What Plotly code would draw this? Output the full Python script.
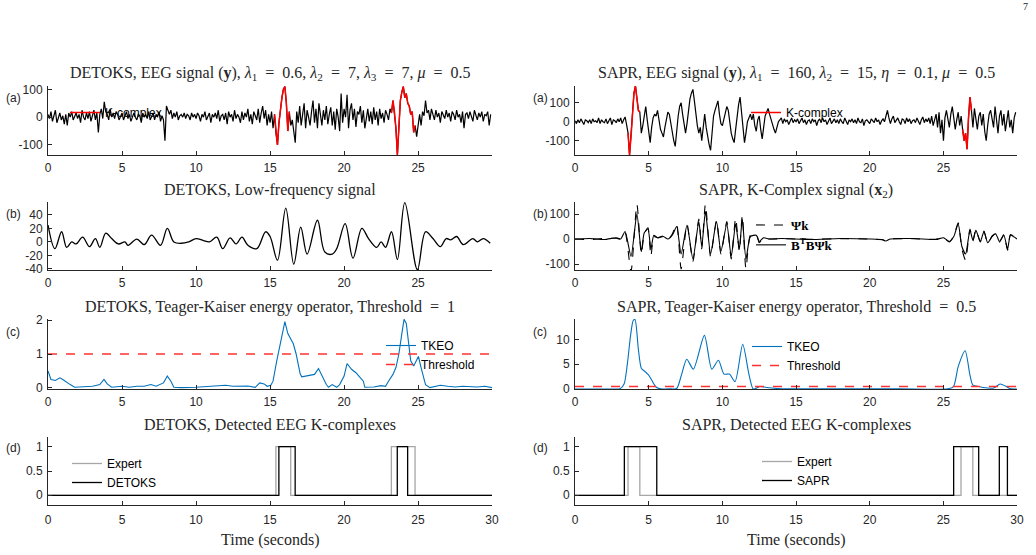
import numpy as np
import plotly.graph_objects as go

W, H = 1036, 555

# ---------------- data ----------------
t_eeg = np.round(np.arange(0, 30, 0.1), 1)

detoks_eeg = [
    10, -5, 20, -15, 5, 25, -20, 0, 15, -10,
    5, -25, 10, -30, 15, 0, 20, -10, 5, 15,
    -5, 10, -20, 25, 0, -10, 15, -5, 20, -15,
    5, 25, -10, 15, -55, 10, 30, -5, 55, 20,
    10, -10, 30, 0, 15, -5, 20, 10, -10, 5,
    15, -10, 5, 20, -5, 10, -15, 5, 15, 0,
    -10, 10, 5, -20, 15, 0, 10, -5, 20, -10,
    5, 15, -10, 10, 0, 20, -15, 5, -10, -85,
    40, 20, 10, 25, -5, 15, 0, 20, -10, 5,
    10, 0, 15, -5, 10, 5, -10, 15, 0, 10,
    -5, 15, 5, -15, 10, 0, 20, -10, 5, 15,
    -20, 10, 0, 15, -5, 25, -15, 5, 10, -10,
    15, -25, 20, 0, 10, -15, 25, -5, 10, 0,
    -20, 20, -10, 15, 0, 30, -15, 10, -25, 20,
    5, -10, 30, -20, 15, 40, -5, 25, -30, 10,
    -20, 20, -40, 10, -60, -100, -20, 40, 70, 100,
    110, 50, -50, 20, -30, -10, -60, -92, 20, -20,
    40, -30, 10, 50, -40, 25, 0, -30, 20, 60,
    -20, 30, -40, 50, 10, -30, 25, -10, 40, -25,
    10, 35, -30, 20, -45, 30, 0, -50, 85, -20,
    30, 0, 80, -40, 25, 50, -10, 30, -35, 20,
    10, 40, -20, 25, -40, 5, 30, -15, 20, -25,
    35, -10, 20, -30, 30, -5, 15, -20, 25, 10,
    -10, 30, 15, 60, 20, -40, -136, -20, 60, 90,
    110, 70, 85, 50, 40, 10, 20, -55, -30, -70,
    -20, 10, -30, 20, 5, 60, 15, 25, -10, 30,
    10, -10, 25, 0, 15, -20, 20, 5, -5, 25,
    0, 15, -15, 20, 10, -10, 25, 0, 10, -20,
    20, -40, 10, 15, -5, 20, 0, -15, 25, 5,
    -10, 15, 0, 20, -15, 10, 5, 20, -30, 10,
]
detoks_kc_windows = [(15.3, 16.3), (23.2, 24.8)]

sapr_eeg = [
    5, -10, 10, -5, 15, 0, -15, 10, 5, -5,
    10, -10, 15, 0, 5, -5, 20, -10, 10, 0,
    -5, 15, -10, 5, 20, -15, 10, 5, -5, 15,
    0, 20, -10, 10, 25, -15, -60, -175, -80, 40,
    150, 188, 120, 60, 50, -60, -20, 30, 80, 10,
    -40, -110, -30, 20, 40, 30, 60, 10, -40, -60,
    -80, -30, 20, 50, 40, -10, -60, -100, -130, -40,
    30, 80, 100, 40, -20, -60, -10, 60, 120, 150,
    170, 110, 30, -20, -60, -30, -100, -20, 40, -30,
    -90, -120, -150, -60, 30, 60, 90, 110, 40, -10,
    -20, 10, 50, 80, 60, -10, -60, -90, -110, -40,
    30, 90, 130, 60, -40, -110, -60, 0, 20, 40,
    10, 40, -20, -50, 10, 30, -40, -90, -30, 30,
    50, 70, 40, 10, -20, -40, -60, -30, 0, 10,
    20, -10, 15, 0, 10, -15, 5, 20, -5, 10,
    0, 15, -10, 5, 20, -5, 10, -15, 5, 10,
    -10, 15, 0, 10, -20, 5, 15, -5, 20, 0,
    10, -15, 5, 20, -10, 0, 15, -5, 10, -10,
    15, 0, -10, 20, 5, -15, 10, 0, 15, -5,
    10, -10, 20, 0, -5, 15, -20, 5, 10, 0,
    -10, 15, 5, -5, 20, 0, 10, -15, 5, 15,
    0, 25, 60, 20, -10, 15, 30, -5, 10, 20,
    0, -15, 15, 10, -10, 20, 0, 15, -10, 5,
    10, -5, 20, 0, -15, 10, 25, -5, 15, 0,
    20, -10, 30, -20, 15, 40, -30, 50, -60, 10,
    -100, 20, 60, 10, -30, 40, 80, 20, -40, 10,
    50, -20, 30, -40, -100, -60, -145, 20, 130, 60,
    -30, 70, 20, -40, 30, 50, -20, 40, -50, -100,
    -20, 40, 60, 10, -30, 80, 20, -60, 30, 60,
    -20, 40, -50, 20, 60, -30, 10, -60, 20, 50,
]
sapr_kc_windows = [(3.6, 4.4), (26.3, 26.9)]

low_t = [0, 0.47, 0.92, 1.26, 1.6, 1.9, 2.34, 2.8, 3.2, 3.5, 3.9, 4.3, 4.75, 5.2, 5.4, 6.0, 6.5,
         7.0, 7.6, 8.06, 8.5, 9.0, 9.5, 10.0, 10.5, 10.9, 11.4, 11.8, 12.3, 12.7, 13.1, 13.5, 14.1,
         14.7, 15.0, 15.5, 16.06, 16.6, 17.07, 17.5, 18.2, 18.7, 19.2, 19.5, 20.07, 20.6, 21.2,
         21.65, 22.2, 22.5, 22.8, 23.2, 23.6, 24.1, 24.95, 25.5, 26.0, 26.5, 26.9, 27.2, 27.6,
         28.05, 28.7, 29.0, 29.4, 29.87]
low_v = [25, -10, 15, -8, 0, -3, 7, -7, 5, -8, 13, 5, -3, 0, -5, 4, -4,
         10, -5, 20, 0, -2, 0, 5, 2, 0, 7, -10, 6, -3, 7, -5, -10,
         15, 8, -27, 50, -33, 22, -18, 32, -15, -18, -10, 27, -24, 20,
         5, -8, 0, -8, 15, -26, 58, -41, 15, 5, -7, 5, 3, 8,
         -4, 5, 0, 5, -2]

x2_t = [0, 1, 2, 2.8, 3.1, 3.4, 3.8, 4.2, 4.5, 4.7, 4.95, 5.15, 5.35, 5.6, 6.0, 6.3, 6.6, 6.9,
        7.2, 7.6, 8.0, 8.4, 8.6, 8.85, 9.2, 9.6, 9.9, 10.3, 10.6, 10.9, 11.15, 11.35, 11.6, 11.9,
        12.3, 12.5, 12.8, 13.2, 14, 16, 18, 20, 20.9, 21.1, 21.4, 23, 24.5, 25.0, 25.4, 25.7,
        26.0, 26.25, 26.5, 26.8, 27.0, 27.2, 27.5, 27.75, 28.0, 28.3, 28.55, 28.8, 29.1, 29.35,
        29.55, 29.99]
psik_v = [0, -2, 2, 3, 0, 25, -130, 140, -60, 20, 45, -70, 10, 5, 12, -2, 20, 60,
          -120, 60, -90, 80, -40, 140, -70, 75, -60, 70, -80, 85, -50, 95, -120, 15,
          20, -15, 5, 0, 1, -1, 1, 0, -4, -10, 0, 1, -1, 6, -12, 12,
          65, -40, -85, 40, -8, 38, -12, 32, -18, 12, 22, -12, 18, -45, 18, 0]
btbpsik_v = [0, 2, -2, 5, 0, 30, -70, 100, -50, 25, 40, -40, 15, 5, 10, 0, 15, 50,
             -60, 55, -80, 70, -30, 110, -60, 70, -50, 60, -70, 60, -40, 80, -80, 10,
             15, -10, 5, 0, 2, -2, 2, 0, -3, -8, 0, 2, -2, 5, -10, 10,
             60, -30, -60, 35, -5, 35, -10, 30, -15, 10, 20, -10, 15, -40, 15, 0]

detoks_tkeo_t = [0, 0.2, 0.5, 0.8, 1.0, 1.3, 1.5, 1.8, 2.5, 3.0, 3.3, 3.5, 3.78, 4.0, 4.3, 4.5, 5.0,
                 5.5, 6.0, 6.5, 6.95, 7.3, 7.8, 8.06, 8.3, 8.5, 9.0, 10.0, 11.0, 11.5, 12.0, 12.5,
                 13.0, 13.5, 14.0, 14.3, 14.6, 14.8, 15.05, 15.2, 15.45, 15.8, 16.0, 16.2, 16.57,
                 16.76, 17.03, 17.14, 17.5, 17.8, 18.0, 18.27, 18.5, 18.8, 18.94, 19.2, 19.5, 19.7,
                 20.0, 20.2, 20.5, 20.8, 21.0, 21.3, 21.4, 22.0, 22.5, 22.8, 23.0, 23.3, 23.5, 23.7,
                 23.9, 24.05, 24.2, 24.35, 24.5, 24.7, 25.02, 25.2, 25.5, 25.8, 26.0, 26.5, 27.0,
                 27.5, 28.0, 28.5, 29.0, 29.5, 29.99]
detoks_tkeo_v = [0.5, 0.25, 0.22, 0.3, 0.25, 0.15, 0.1, 0.02, 0.03, 0.05, 0.08, 0.1, 0.25, 0.12, 0.02,
                 0.03, 0.05, 0.02, 0.05, 0.05, 0.1, 0.05, 0.15, 0.35, 0.2, 0.02, 0.01, 0.02, 0.05,
                 0.08, 0.08, 0.05, 0.05, 0.06, 0.02, 0.15, 0.12, 0.05, 0.08, 0.2, 0.8, 1.5, 1.95,
                 1.6, 1.3, 1.0, 0.42, 0.33, 0.35, 0.38, 0.4, 0.57, 0.35, 0.1, 0.02, 0.1, 0.02, 0.1,
                 0.35, 0.72, 0.55, 0.45, 0.35, 0.2, 0.02, 0.03, 0.07, 0.05, 0.2, 0.4, 0.6, 1.0,
                 1.6, 2.02, 1.9, 1.3, 0.8, 0.65, 0.93, 0.6, 0.1, 0.01, 0.03, 0.08, 0.05,
                 0.03, 0.05, 0.03, 0.03, 0.05, 0.01]
detoks_threshold = 1

sapr_tkeo_t = [0, 2.5, 3.05, 3.33, 3.55, 3.78, 3.95, 4.07, 4.3, 4.5, 4.75, 5.0, 5.2, 5.5, 5.8, 6.5,
               6.9, 7.24, 7.58, 8.03, 8.78, 9.28, 9.73, 10.11, 10.48, 10.86, 11.38, 11.8, 12.1,
               12.56, 13.0, 14, 18, 22, 25.3, 25.68, 26.0, 26.47, 26.8, 27.0, 27.4, 27.7, 28.4,
               28.85, 29.2, 29.5, 29.98]
sapr_tkeo_v = [0, 0, 0.05, 1, 5, 11, 13.8, 14, 8, 4.2, 3.5, 2.8, 1.8, 0.4, 0.05, 0.02,
               0.1, 3, 6.0, 4.0, 10.8, 4.0, 5.8, 3.0, 3.0, 1.5, 9.0, 3, 0,
               0.5, 0.3, 0.05, 0.05, 0.05, 0.05, 0.5, 4.5, 7.7, 2.8, 0.8, 0.5, 0.3, 0.2,
               1.0, 0.6, 0.1, 0]
sapr_threshold = 0.5

detoks_expert = [(15.4, 16.4), (23.2, 24.8)]
detoks_detected = [(15.6, 16.7), (23.6, 24.3)]
sapr_expert = [(3.6, 4.4), (26.2, 27.0)]
sapr_detected = [(3.35, 5.55), (25.7, 27.4), (28.8, 29.35)]

# ---------------- helpers ----------------
AX = "#262626"
SANS = "Liberation Sans, Arial, sans-serif"
SERIF = "Liberation Serif, Times New Roman, serif"
BLUE = "#0072BD"
GRAY = "#a6a6a6"
RED = "#ff0000"
EQ = "\u2002=\u2002"


def px_x(p):
    return p / W


def px_y(p):
    return 1 - p / H


def kc_mask(values, windows):
    out = []
    for ti, v in zip(t_eeg, values):
        inside = any(s - 1e-9 <= ti <= e + 1e-9 for s, e in windows)
        out.append(v if inside else None)
    return out


def step(intervals, t_end=30.0):
    xs, ys = [0.0], [0]
    for s, e in intervals:
        xs += [s, e]
        ys += [1, 0]
    xs.append(t_end)
    ys.append(0)
    return xs, ys


fig = go.Figure()


def add(trace, k):
    trace.update(xaxis="x" if k == 1 else f"x{k}", yaxis="y" if k == 1 else f"y{k}")
    fig.add_trace(trace)

# panel index: 1 L-a, 2 R-a, 3 L-b, 4 R-b, 5 L-c, 6 R-c, 7 L-d, 8 R-d
# (a)
add(go.Scatter(x=t_eeg, y=detoks_eeg, mode="lines", line=dict(color="black", width=1.2), showlegend=False), 1)
add(go.Scatter(x=t_eeg, y=kc_mask(detoks_eeg, detoks_kc_windows), mode="lines", name="K-complex",
               line=dict(color=RED, width=1.5), legend="legend"), 1)
add(go.Scatter(x=t_eeg, y=sapr_eeg, mode="lines", line=dict(color="black", width=1.2), showlegend=False), 2)
add(go.Scatter(x=t_eeg, y=kc_mask(sapr_eeg, sapr_kc_windows), mode="lines", name="K-complex",
               line=dict(color=RED, width=1.5), legend="legend2"), 2)
# (b)
add(go.Scatter(x=low_t, y=low_v, mode="lines", line=dict(color="black", width=1.3, shape="spline", smoothing=1.0),
               showlegend=False), 3)
add(go.Scatter(x=x2_t, y=btbpsik_v, mode="lines", name="<b>B<sup>T</sup>BΨk</b>", legendrank=2,
               line=dict(color="black", width=1.1, shape="spline", smoothing=0.6), legend="legend3"), 4)
add(go.Scatter(x=x2_t, y=psik_v, mode="lines", name="<b>Ψk</b>", legendrank=1,
               line=dict(color="black", width=1.1, dash="dash", shape="spline", smoothing=0.6), legend="legend3"), 4)
# (c)
add(go.Scatter(x=detoks_tkeo_t, y=detoks_tkeo_v, mode="lines", name="TKEO",
               line=dict(color=BLUE, width=1.1), legend="legend4"), 5)
add(go.Scatter(x=[0, 30], y=[detoks_threshold] * 2, mode="lines", name="Threshold",
               line=dict(color="#ff3030", width=1.3, dash="dash"), legend="legend4"), 5)
add(go.Scatter(x=sapr_tkeo_t, y=sapr_tkeo_v, mode="lines", name="TKEO",
               line=dict(color=BLUE, width=1.1, shape="spline", smoothing=0.7), legend="legend5"), 6)
add(go.Scatter(x=[0, 30], y=[sapr_threshold] * 2, mode="lines", name="Threshold",
               line=dict(color="#ff3030", width=1.3, dash="dash"), legend="legend5"), 6)
# (d)
xe, ye = step(detoks_expert)
xd, yd = step(detoks_detected)
add(go.Scatter(x=xe, y=ye, mode="lines", name="Expert", line=dict(color=GRAY, width=1.3, shape="hv"),
               legend="legend6"), 7)
add(go.Scatter(x=xd, y=yd, mode="lines", name="DETOKS", line=dict(color="black", width=1.3, shape="hv"),
               legend="legend6"), 7)
xe, ye = step(sapr_expert)
xd, yd = step(sapr_detected)
add(go.Scatter(x=xe, y=ye, mode="lines", name="Expert", line=dict(color=GRAY, width=1.3, shape="hv"),
               legend="legend7"), 8)
add(go.Scatter(x=xd, y=yd, mode="lines", name="SAPR", line=dict(color="black", width=1.3, shape="hv"),
               legend="legend7"), 8)

# ---------------- axes ----------------
col_x = [(48, 492), (575, 1017)]
row_y = [(86, 155), (202, 270), (319, 389), (437, 505)]
yranges = {1: [-136, 112], 2: [-175, 188], 3: [-41.5, 59], 4: [-124, 148],
           5: [-0.03, 2.03], 6: [0, 14.1], 7: [-0.2, 1.2], 8: [-0.2, 1.2]}
yticks = {1: [-100, 0, 100], 2: [-100, 0, 100], 3: [-40, -20, 0, 20, 40], 4: [-100, 0, 100],
          5: [0, 1, 2], 6: [0, 5, 10], 7: [0, 0.5, 1], 8: [0, 0.5, 1]}

layout = {}
for k in range(1, 9):
    col = (k - 1) % 2
    row = (k - 1) // 2
    x0, x1 = col_x[col]
    yt, yb = row_y[row]
    xname = "xaxis" if k == 1 else f"xaxis{k}"
    yname = "yaxis" if k == 1 else f"yaxis{k}"
    bottom = row == 3
    xt = [0, 5, 10, 15, 20, 25, 30] if bottom else [0, 5, 10, 15, 20, 25]
    common = dict(showline=True, linecolor=AX, linewidth=1, ticks="inside", ticklen=4, tickwidth=1,
                  tickcolor=AX, tickfont=dict(family=SANS, size=12, color=AX), showgrid=False,
                  zeroline=False, fixedrange=True, automargin=False)
    layout[xname] = dict(domain=[px_x(x0), px_x(x1)], range=[0, 30] if bottom else [0, 29.99],
                         tickvals=xt, ticktext=[str(v) for v in xt], ticklabelstandoff=4 if bottom else 2,
                         anchor="y" if k == 1 else f"y{k}", **common)
    yv = yticks[k]
    layout[yname] = dict(domain=[px_y(yb), px_y(yt)], range=yranges[k], tickvals=yv,
                         ticktext=[("-" + f"{abs(v):g}") if v < 0 else f"{v:g}" for v in yv],
                         anchor="x" if k == 1 else f"x{k}", ticklabelstandoff=2, **common)

# ---------------- legends ----------------
def leg(xp, yp, family=SANS, size=12):
    return dict(x=px_x(xp), y=px_y(yp), xanchor="left", yanchor="top", bgcolor="rgba(0,0,0,0)",
                borderwidth=0, font=dict(family=family, size=size, color="black"),
                tracegroupgap=0, itemwidth=30, traceorder="normal")

layout["legend"] = leg(65, 98)
layout["legend2"] = leg(746, 98)
layout["legend3"] = leg(751, 210, family=SERIF, size=13)
layout["legend4"] = leg(381, 331)
layout["legend5"] = leg(747, 332)
layout["legend6"] = leg(67, 449)
layout["legend7"] = leg(757, 447)

# ---------------- titles / labels ----------------
titles_left = [
    f"DETOKS, EEG signal (<b>y</b>), <i>λ</i><sub>1</sub>{EQ}0.6, <i>λ</i><sub>2</sub>{EQ}7, "
    f"<i>λ</i><sub>3</sub>{EQ}7, <i>μ</i>{EQ}0.5",
    "DETOKS, Low-frequency signal",
    f"DETOKS, Teager-Kaiser energy operator, Threshold{EQ}1",
    "DETOKS, Detected EEG K-complexes",
]
titles_right = [
    f"SAPR, EEG signal (<b>y</b>), <i>λ</i><sub>1</sub>{EQ}160, <i>λ</i><sub>2</sub>{EQ}15, "
    f"<i>η</i>{EQ}0.1, <i>μ</i>{EQ}0.5",
    "SAPR, K-Complex signal (<b>x</b><sub>2</sub>)",
    f"SAPR, Teager-Kaiser energy operator, Threshold{EQ}0.5",
    "SAPR, Detected EEG K-complexes",
]
title_y = [74, 190, 307, 425]
ann = []
for i in range(4):
    for col, txt in ((0, titles_left[i]), (1, titles_right[i])):
        cx = (col_x[col][0] + col_x[col][1]) / 2
        ann.append(dict(text=txt, x=px_x(cx), y=px_y(title_y[i]), xref="paper", yref="paper",
                        xanchor="center", yanchor="middle", showarrow=False,
                        font=dict(family=SERIF, size=16, color=AX)))
for col in range(2):
    cx = (col_x[col][0] + col_x[col][1]) / 2
    ann.append(dict(text="Time (seconds)", x=px_x(cx), y=px_y(540), xref="paper", yref="paper",
                    xanchor="center", yanchor="middle", showarrow=False,
                    font=dict(family=SERIF, size=16, color=AX)))
panel_lbl_y = [98, 214, 332, 448]
for i, lab in enumerate(["(a)", "(b)", "(c)", "(d)"]):
    for xp in (13, 540):
        ann.append(dict(text=lab, x=px_x(xp), y=px_y(panel_lbl_y[i]), xref="paper", yref="paper",
                        xanchor="center", yanchor="middle", showarrow=False,
                        font=dict(family=SANS, size=12, color=AX)))
ann.append(dict(text="7", x=px_x(1025), y=px_y(6), xref="paper", yref="paper", xanchor="center",
                yanchor="middle", showarrow=False, font=dict(family=SERIF, size=10, color=AX)))

fig.update_layout(width=W, height=H, margin=dict(l=0, r=0, t=0, b=0, autoexpand=False),
                  paper_bgcolor="white", plot_bgcolor="white", annotations=ann, **layout)

fig.write_html("out.html")
